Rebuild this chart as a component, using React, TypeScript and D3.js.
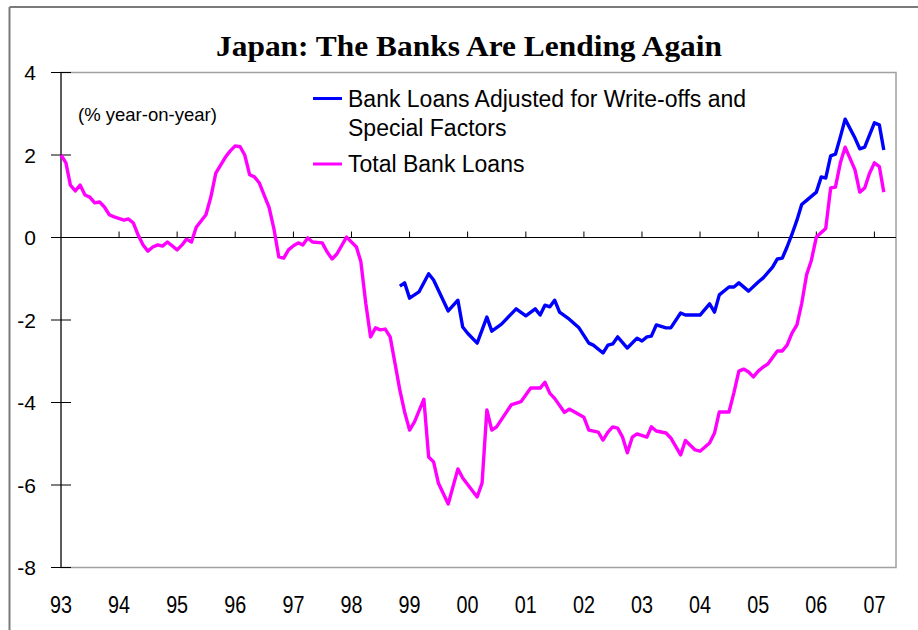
import React from "react";
import * as d3 from "d3";

const W = 918;
const H = 630;

const title = "Japan: The Banks Are Lending Again";
const unitLabel = "(% year-on-year)";
const yTicks = [4, 2, 0, -2, -4, -6, -8];
const xYears = [1993, 1994, 1995, 1996, 1997, 1998, 1999, 2000, 2001, 2002, 2003, 2004, 2005, 2006, 2007];

const totalDates = [
  "1993-01","1993-02","1993-03","1993-04","1993-05","1993-06","1993-07","1993-08","1993-09","1993-10","1993-11","1993-12",
  "1994-02","1994-03","1994-04","1994-05","1994-06","1994-07","1994-08","1994-09","1994-10","1994-11",
  "1995-01","1995-02","1995-03","1995-04","1995-05","1995-07","1995-08","1995-09","1995-11","1995-12",
  "1996-01","1996-02","1996-03","1996-04","1996-05","1996-06","1996-07","1996-08","1996-09","1996-10","1996-11","1996-12",
  "1997-01","1997-02","1997-03","1997-04","1997-05","1997-07","1997-08","1997-09","1997-10","1997-12",
  "1998-02","1998-03","1998-04","1998-05","1998-06","1998-07","1998-08","1998-09","1998-10","1998-11","1998-12",
  "1999-01","1999-02","1999-04","1999-05","1999-06","1999-07","1999-09","1999-11","1999-12",
  "2000-03","2000-04","2000-05","2000-06","2000-07","2000-10","2000-12",
  "2001-02","2001-04","2001-05","2001-06","2001-07","2001-09","2001-10",
  "2002-01","2002-02","2002-04","2002-05","2002-06","2002-07","2002-08","2002-09","2002-10","2002-11","2002-12",
  "2003-02","2003-03","2003-04","2003-06","2003-07","2003-09","2003-10","2003-12",
  "2004-01","2004-03","2004-04","2004-05","2004-07","2004-08","2004-09","2004-10","2004-11","2004-12",
  "2005-01","2005-02","2005-03","2005-05","2005-06","2005-07","2005-08","2005-09","2005-10","2005-11","2005-12",
  "2006-01","2006-03","2006-04","2006-05","2006-06","2006-07","2006-09","2006-10","2006-11","2006-12",
  "2007-01","2007-02","2007-03"
];
const totalValues = [
  2.00,1.81,1.27,1.13,1.27,1.03,0.98,0.84,0.86,0.74,0.55,0.50,
  0.42,0.45,0.35,0.06,-0.18,-0.33,-0.23,-0.18,-0.21,-0.11,
  -0.30,-0.18,-0.04,-0.11,0.25,0.55,0.98,1.56,1.95,2.10,
  2.22,2.20,2.00,1.52,1.47,1.32,1.03,0.73,0.20,-0.47,-0.50,-0.30,
  -0.20,-0.13,-0.18,-0.01,-0.11,-0.13,-0.35,-0.52,-0.40,0.01,
  -0.23,-0.59,-1.60,-2.41,-2.19,-2.24,-2.22,-2.41,-3.04,-3.70,-4.23,
  -4.67,-4.47,-3.92,-5.32,-5.44,-5.95,-6.46,-5.61,-5.83,
  -6.29,-5.95,-4.18,-4.67,-4.59,-4.06,-3.98,
  -3.65,-3.65,-3.51,-3.78,-3.90,-4.24,-4.16,
  -4.36,-4.67,-4.72,-4.91,-4.72,-4.59,-4.62,-4.84,-5.22,-4.84,-4.76,
  -4.84,-4.59,-4.69,-4.74,-4.86,-5.27,-4.92,-5.15,
  -5.18,-4.98,-4.74,-4.23,-4.23,-3.76,-3.24,-3.19,-3.26,-3.38,
  -3.24,-3.14,-3.07,-2.75,-2.75,-2.61,-2.32,-2.12,-1.60,-0.90,-0.55,
  0.01,0.22,1.20,1.22,1.81,2.19,1.64,1.10,1.20,1.55,
  1.81,1.72,1.10
];

const adjustedDates = [
  "1998-11","1998-12","1999-01","1999-03","1999-05","1999-06","1999-09","1999-11","1999-12",
  "2000-01","2000-03","2000-05","2000-06","2000-08","2000-11",
  "2001-01","2001-03","2001-04","2001-05","2001-06","2001-07","2001-08","2001-10","2001-12",
  "2002-02","2002-03","2002-05","2002-06","2002-07","2002-08","2002-10","2002-12",
  "2003-01","2003-02","2003-03","2003-04","2003-06","2003-07","2003-09","2003-10",
  "2004-01","2004-03","2004-04","2004-05","2004-07","2004-08","2004-09","2004-11",
  "2005-01","2005-02","2005-04","2005-05","2005-06","2005-07","2005-08","2005-09","2005-10","2005-11",
  "2006-01","2006-02","2006-03","2006-04","2006-05","2006-06","2006-07","2006-09","2006-10","2006-11",
  "2007-01","2007-02","2007-03"
];
const adjustedValues = [
  -1.18,-1.10,-1.47,-1.32,-0.88,-1.03,-1.78,-1.52,-2.17,
  -2.32,-2.56,-1.93,-2.27,-2.10,-1.73,
  -1.90,-1.73,-1.88,-1.64,-1.68,-1.52,-1.81,-1.98,-2.19,
  -2.56,-2.61,-2.80,-2.61,-2.58,-2.41,-2.68,-2.44,
  -2.51,-2.41,-2.39,-2.12,-2.19,-2.19,-1.83,-1.88,
  -1.88,-1.61,-1.81,-1.39,-1.20,-1.20,-1.10,-1.30,
  -1.08,-0.98,-0.72,-0.52,-0.50,-0.23,0.08,0.42,0.80,0.90,
  1.10,1.47,1.44,1.98,2.02,2.44,2.87,2.41,2.15,2.19,
  2.78,2.73,2.12
];

const legendLines = [
  { color: "#0000FF", text: ["Bank Loans Adjusted for Write-offs and", "Special Factors"] },
  { color: "#FF00FF", text: ["Total Bank Loans"] },
];

const parse = d3.timeParse("%Y-%m");

export default function App() {
  const left = 61, right = 896, top = 72.5, bottom = 567.5;
  const x = d3.scaleTime()
    .domain([new Date(1993, 0, 1), new Date(2007, 0, 1)])
    .range([left, 874.4]);
  const y = d3.scaleLinear().domain([-8, 4]).range([bottom, top]);

  const total = totalDates.map((d, i) => ({ date: parse(d) as Date, v: totalValues[i] }));
  const adj = adjustedDates.map((d, i) => ({ date: parse(d) as Date, v: adjustedValues[i] }));
  const line = d3.line<{ date: Date; v: number }>().x(d => x(d.date)).y(d => y(d.v));

  const font = "Arial, 'Liberation Sans', sans-serif";

  return (
    <svg width={W} height={H} style={{ position: "absolute", left: 0, top: 0, background: "#fff" }}>
      <rect x={0} y={0} width={W} height={H} fill="#fff" />
      {/* outer frame */}
      <line x1={9.5} y1={7} x2={W} y2={7} stroke="#7a7a7a" strokeWidth={2} />
      <line x1={9.5} y1={7} x2={9.5} y2={H} stroke="#7a7a7a" strokeWidth={2} />

      <text x={469} y={56} textAnchor="middle" fontFamily="'Times New Roman', 'Liberation Serif', serif"
        fontWeight="bold" fontSize={30} textLength={506} lengthAdjust="spacingAndGlyphs" fill="#000">{title}</text>

      {/* plot border */}
      <rect x={left} y={top} width={right - left} height={bottom - top} fill="none" stroke="#a0a0a0" strokeWidth={1.5} />
      {/* y axis */}
      <line x1={left} y1={top} x2={left} y2={bottom} stroke="#000" strokeWidth={1} />
      {yTicks.map(t => (
        <g key={t}>
          <line x1={left - 10} x2={left + 10} y1={y(t)} y2={y(t)} stroke="#000" strokeWidth={1} />
          <text x={36} y={y(t)} dy="0.36em" textAnchor="end" fontFamily={font} fontSize={21} fill="#000">{t}</text>
        </g>
      ))}
      {/* zero line */}
      <line x1={left - 10} x2={right} y1={y(0)} y2={y(0)} stroke="#000" strokeWidth={1} />
      {xYears.map(yr => {
        const xx = x(new Date(yr, 0, 1));
        return (
          <g key={yr}>
            {yr > 1993 && <line x1={xx} x2={xx} y1={y(0)} y2={y(0) - 6} stroke="#000" strokeWidth={1} />}
            <text x={xx} y={605} dy="0.36em" textAnchor="middle" fontFamily={font} fontSize={23}
              textLength={22} lengthAdjust="spacingAndGlyphs" fill="#000">{String(yr).slice(2)}</text>
          </g>
        );
      })}

      <text x={78} y={121} fontFamily={font} fontSize={18.5} fill="#000">{unitLabel}</text>

      {/* legend */}
      <line x1={313} x2={342} y1={98.5} y2={98.5} stroke={legendLines[0].color} strokeWidth={3} />
      <text x={348} y={107} fontFamily={font} fontSize={23} fill="#000">{legendLines[0].text[0]}</text>
      <text x={348} y={136} fontFamily={font} fontSize={23} fill="#000">{legendLines[0].text[1]}</text>
      <line x1={313} x2={342} y1={164} y2={164} stroke={legendLines[1].color} strokeWidth={3} />
      <text x={348} y={172} fontFamily={font} fontSize={23} fill="#000">{legendLines[1].text[0]}</text>

      <path d={line(total) || ""} fill="none" stroke="#FF00FF" strokeWidth={3.4} strokeLinejoin="round" />
      <path d={line(adj) || ""} fill="none" stroke="#0000FF" strokeWidth={3.4} strokeLinejoin="round" />
    </svg>
  );
}
